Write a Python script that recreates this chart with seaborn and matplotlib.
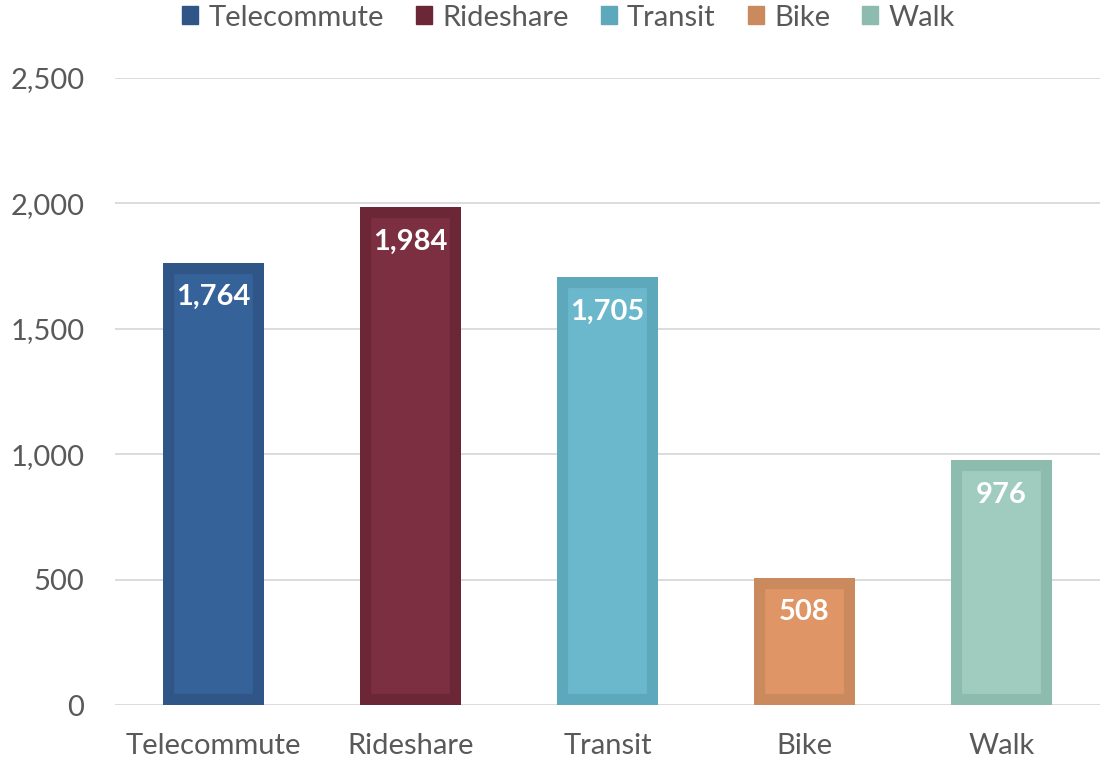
import matplotlib
matplotlib.use("Agg")
import matplotlib.pyplot as plt
import seaborn as sns
import pandas as pd
from matplotlib.patches import Patch
from matplotlib.ticker import FuncFormatter

modes = ["Telecommute", "Rideshare", "Transit", "Bike", "Walk"]
counts = [1764, 1984, 1705, 508, 976]
fill_colors = ["#36629A", "#7B2F40", "#6BB8CD", "#DF9566", "#9FCCBF"]
edge_colors = ["#2F5687", "#6C2737", "#5DA8BA", "#CB895E", "#8DBBAD"]

sns.set_theme(style="white")
plt.rcParams["font.family"] = ["Lato", "DejaVu Sans"]

df = pd.DataFrame({"mode": modes, "count": counts})

fig = plt.figure(figsize=(11.19, 7.62), dpi=100)
ax = fig.add_axes([0.1028, 0.0748, 0.8803, 0.8228])

sns.barplot(data=df, x="mode", y="count", hue="mode", palette=fill_colors,
            saturation=1, width=0.51, legend=False, ax=ax)

# darker inner border, kept inside each bar
for patch, ec in zip(ax.patches, edge_colors):
    patch.set_edgecolor(ec)
    patch.set_linewidth(16)
    patch.set_clip_path(patch)
    patch.set_zorder(3)

for i, v in enumerate(counts):
    ax.annotate(f"{v:,}", (i, v), xytext=(0, -25), textcoords="offset points",
                ha="center", va="center", color="white", fontsize=21,
                fontweight="bold", zorder=4)

ax.set_xlim(-0.5, 4.5)
ax.set_ylim(0, 2500)
ax.set_yticks(range(0, 2501, 500))
ax.yaxis.set_major_formatter(FuncFormatter(lambda y, _: f"{int(y):,}"))
ax.grid(axis="y", color="#D9D9D9", linewidth=1.3, zorder=0)
ax.set_axisbelow(True)
for s in ax.spines.values():
    s.set_visible(False)
ax.tick_params(axis="both", length=0, labelsize=21, labelcolor="#595959")
ax.tick_params(axis="x", pad=20)
ax.tick_params(axis="y", pad=22)
ax.set_xlabel("")
ax.set_ylabel("")

handles = [Patch(facecolor=c, edgecolor=c, label=m) for m, c in zip(modes, edge_colors)]
fig.legend(handles=handles, loc="center", bbox_to_anchor=(0.508, 0.977), ncol=5,
           frameon=False, fontsize=21, labelcolor="#595959", handlelength=0.55,
           handleheight=0.55, handletextpad=0.35, columnspacing=1.1)

fig.savefig("out.png", dpi=100)
